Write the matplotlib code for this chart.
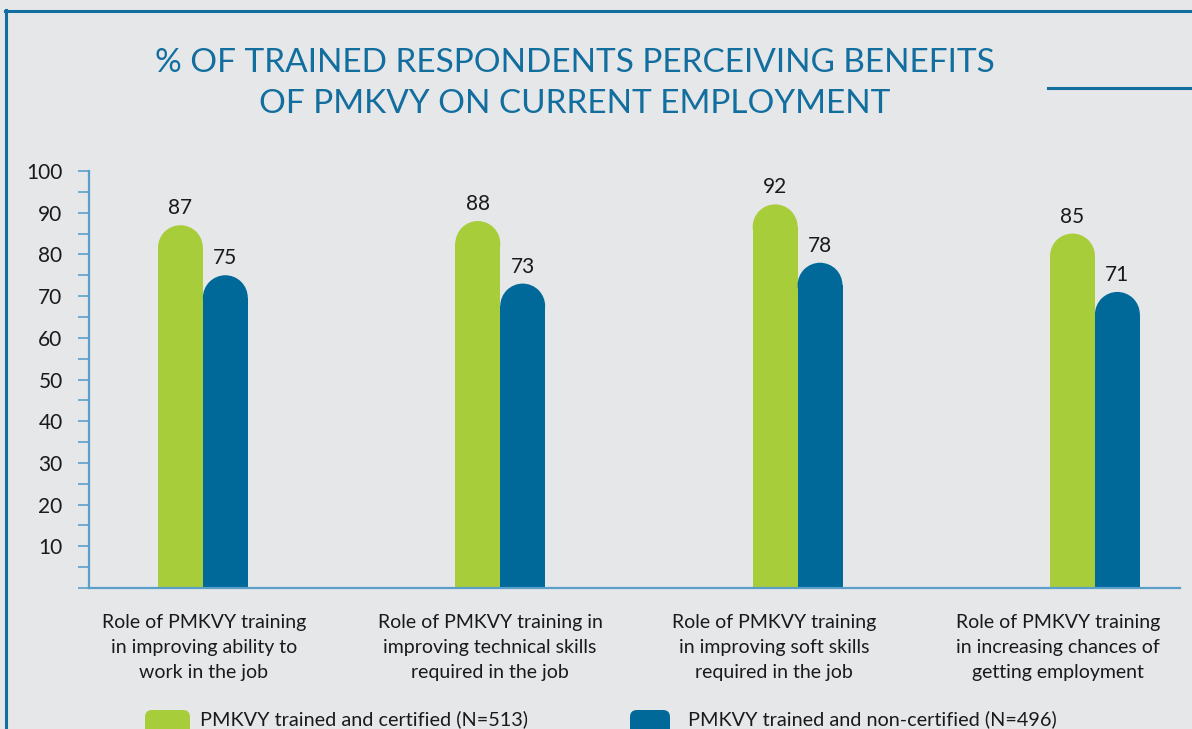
import matplotlib
matplotlib.use("Agg")
import matplotlib.pyplot as plt
from matplotlib.patches import Ellipse, FancyBboxPatch
from matplotlib.lines import Line2D
from matplotlib.ticker import FixedLocator, FixedFormatter

plt.rcParams['font.family'] = ['Lato', 'DejaVu Sans']

categories = [
    "Role of PMKVY training\nin improving ability to\nwork in the job",
    "Role of PMKVY training in\nimproving technical skills\nrequired in the job",
    "Role of PMKVY training\nin improving soft skills\nrequired in the job",
    "Role of PMKVY training\nin increasing chances of\ngetting employment",
]
certified = [87, 88, 92, 85]
non_certified = [75, 73, 78, 71]
series_names = ["PMKVY trained and certified (N=513)",
                "PMKVY trained and non-certified (N=496)"]
y_ticks = list(range(0, 101, 5))
y_labels = [str(t) if t % 10 == 0 and t > 0 else "" for t in y_ticks]

GREEN = "#a8cd3a"
BLUE = "#00699a"
TITLE_BLUE = "#126e9f"
AXIS_BLUE = "#5a9fc8"
BG = "#e6e7e9"
TXT = "#1a1a1a"

W, H = 1192, 729
fig = plt.figure(figsize=(W / 100, H / 100), dpi=100, facecolor=BG)

# overlay in pixel coordinates for frame, titles, labels and legend
ov = fig.add_axes([0, 0, 1, 1])
ov.set_xlim(0, W)
ov.set_ylim(H, 0)
ov.axis("off")
ov.add_line(Line2D([5, W], [11, 11], color=TITLE_BLUE, lw=2.2))
ov.add_line(Line2D([6, 6], [10, H], color=TITLE_BLUE, lw=2.2))
ov.add_line(Line2D([1048, W], [88, 88], color=TITLE_BLUE, lw=2.2))

ov.text(575, 63, "% OF TRAINED RESPONDENTS PERCEIVING BENEFITS", color=TITLE_BLUE,
        fontsize=24, ha="center", va="center")
ov.text(575, 104, "OF PMKVY ON CURRENT EMPLOYMENT", color=TITLE_BLUE,
        fontsize=24, ha="center", va="center")

# category labels (not centred exactly under the bar groups in the original)
label_x = [204, 490, 774, 1058]
for lx, cat in zip(label_x, categories):
    ov.text(lx, 614, cat, fontsize=14, ha="center", va="top", color=TXT,
            linespacing=1.58)

# legend
for x0, w, col, name, tx in [(145, 45, GREEN, series_names[0], 200),
                              (630, 40, BLUE, series_names[1], 688)]:
    ov.add_patch(FancyBboxPatch((x0, 710), w, 30, boxstyle="round,pad=0,rounding_size=7",
                                fc=col, ec="none"))
    ov.text(tx, 719, name, fontsize=14.3, ha="left", va="center", color=TXT)

# main chart
left, right, bottom, top = 89, 1180, 588, 171
ax = fig.add_axes([left / W, (H - bottom) / H, (right - left) / W, (bottom - top) / H])
ax.set_facecolor("none")
x = list(range(len(categories)))
ax.set_xlim(-0.383, 3.286)
ax.set_ylim(0, 100)
bw = 0.151

# y radius of rounded caps in data units so they look circular
px_per_x = (right - left) / (3.286 + 0.383)
px_per_y = (bottom - top) / 100
ry = (bw * px_per_x / 2) / px_per_y

for offs, vals, col in [(-bw / 2, certified, GREEN), (bw / 2, non_certified, BLUE)]:
    for xi, v in zip(x, vals):
        cx = xi + offs
        ax.bar(cx, v - ry, width=bw, color=col, zorder=2, linewidth=0)
        ax.add_patch(Ellipse((cx, v - ry), bw, 2 * ry, color=col, zorder=2, linewidth=0))
        ax.annotate(str(v), (cx, v), xytext=(0, 5), textcoords="offset points",
                    ha="center", va="bottom", fontsize=15, color=TXT)

for s in ["top", "right"]:
    ax.spines[s].set_visible(False)
for s in ["left", "bottom"]:
    ax.spines[s].set_color(AXIS_BLUE)
    ax.spines[s].set_linewidth(1.6)
    ax.spines[s].set_zorder(3)

ax.yaxis.set_major_locator(FixedLocator(y_ticks))
ax.yaxis.set_major_formatter(FixedFormatter(y_labels))
ax.tick_params(axis="y", length=8, width=1.2, color=AXIS_BLUE, pad=11,
               labelsize=15, labelcolor=TXT)
ax.set_xticks(x)
ax.set_xticklabels([])
ax.tick_params(axis="x", length=0)

fig.savefig("out.png", dpi=100, facecolor=BG)
